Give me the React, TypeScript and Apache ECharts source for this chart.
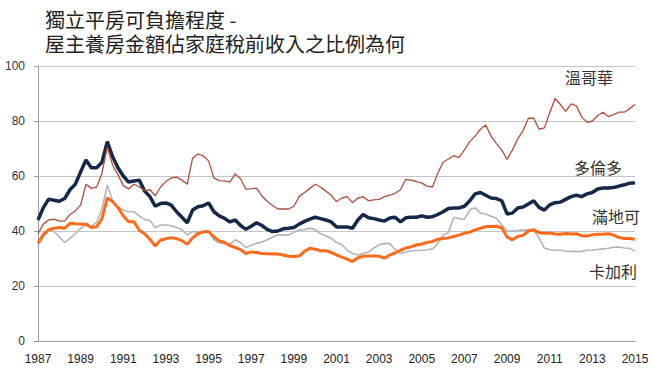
import React, { useEffect, useRef } from "react";
import * as echarts from "echarts";

// Quarterly series, 1987 Q1 – 2015 Q1
const startYear = 1987;
const yearTicks = [1987, 1989, 1991, 1993, 1995, 1997, 1999, 2001, 2003, 2005, 2007, 2009, 2011, 2013, 2015];
const titleLines = ["獨立平房可負擔程度 -", "屋主養房金額佔家庭稅前收入之比例為何"];
const seriesNames = ["溫哥華", "多倫多", "滿地可", "卡加利"];

const vancouver = [
  39, 42.5, 44, 44.3, 43.6, 43.6, 46, 47.3, 49.5, 57, 55.5, 56, 61, 70.5, 64, 60.4,
  56.5, 55.3, 57, 56, 54.7, 55, 52.8, 56, 58, 59.3, 59.6, 58.5, 57, 66.5, 68, 67.3,
  65.5, 59.3, 58.3, 58.2, 57.8, 60.7, 59, 55.2, 55.3, 55.6, 52.8, 50.8, 49.3, 48, 48, 48,
  49, 52.5, 54, 55.5, 57, 56, 54.5, 53, 50.7, 52, 52.5, 50.3, 52, 52.4, 51, 51.3,
  51.5, 52.5, 53, 53.7, 55, 58.8, 58.5, 58, 57.4, 56.3, 56, 61, 65, 66.2, 67.3, 66.8,
  69.5, 72.5, 74.5, 77, 78.5, 74.5, 71.8, 69.5, 66, 69.5, 73.5, 76.5, 81, 81, 77, 77.5,
  83, 88.2, 86, 83.5, 86.2, 85.5, 81.5, 79.5, 80, 82, 83.2, 81.6, 82.3, 83.2, 83.2, 84.5,
  86,
];

const toronto = [
  44, 48.5, 51.6, 51.2, 50.8, 51.8, 55, 57, 61.5, 65.8, 63, 63, 65, 72.5, 67, 63,
  60, 57.8, 58.2, 58.5, 54.5, 52.5, 49, 50, 50.2, 49.4, 47, 45, 43, 47.6, 48.8, 49.2,
  50.2, 47, 45.5, 44.6, 43.3, 44, 42, 40.6, 41.7, 43, 42, 40.6, 39.8, 40, 40.8, 41,
  41.3, 42.5, 43.5, 44.3, 45, 44.5, 44, 43.3, 41.5, 41.5, 41.5, 41, 44, 46, 44.8, 44.5,
  44, 43.6, 44.7, 45, 43.3, 44.8, 45, 45, 45.5, 45, 45.2, 46, 47, 48.2, 48.4, 48.4,
  49, 51, 53.5, 54, 53, 52, 51.8, 51, 46.2, 46.5, 48.4, 48.7, 49.8, 51, 48.6, 47.6,
  49.5, 50.3, 50.5, 51.5, 52.5, 53, 52.5, 53.5, 54, 55.3, 55.6, 55.6, 55.8, 56.3, 56.8, 57.4,
  57.5,
];

const montreal = [
  35.5, 38.5, 40.5, 41, 41.3, 41, 42.8, 42.6, 42.5, 42.5, 41.3, 41.5, 44.5, 52, 50.7, 48.5,
  45.5, 43.4, 43.4, 40.3, 39, 37, 34.5, 36.7, 37.2, 37.6, 37.2, 36.5, 35.2, 37.5, 39, 39.7,
  39.8, 37.8, 36.4, 35.8, 34.7, 34, 33.2, 31.8, 32.4, 32.2, 31.8, 31.7, 31.6, 31.6, 31.3, 30.8,
  30.7, 30.9, 32.6, 33.7, 33.4, 32.8, 32.8, 32.2, 31.3, 30.5, 29.8, 28.9, 30.3, 30.8, 30.9, 30.9,
  30.9, 30.1, 31.3, 32, 33, 33.8, 34.3, 34.9, 35.3, 35.8, 36.2, 37, 37.3, 37.5, 38, 38.5,
  39.2, 39.6, 40.4, 41, 41.6, 41.6, 41.7, 41.2, 37.8, 36.8, 38, 38.4, 40, 40.5, 39.4, 39.2,
  39.3, 38.9, 38.8, 39.1, 38.9, 39, 38.3, 38.2, 38.6, 38.8, 38.8, 39, 38.5, 37.6, 37.3, 37.3,
  37,
];

const calgary = [
  36, 39.3, 40.3, 39.8, 37.9, 35.8, 37.3, 39, 41, 42.2, 41.6, 43.2, 48, 56.7, 51, 48.8,
  47.6, 47, 47, 45.5, 44.2, 43.8, 41.2, 42.2, 42.2, 41.9, 41.3, 40.5, 38.6, 39.8, 39.5, 39.8,
  39.8, 36.8, 35.7, 35.4, 35.3, 36.8, 35.8, 34, 34.8, 35.5, 36, 36.8, 37.7, 38.6, 38.6, 38.5,
  39.5, 40.4, 40.5, 41, 40.5, 39, 38.3, 37.3, 35.8, 35, 33, 31.8, 31.3, 31.8, 32.4, 33.8,
  35, 35.5, 35.4, 33.3, 31.9, 32.3, 32.8, 32.9, 33, 33.2, 33.5, 35.5, 38.5, 39.5, 45, 44.5,
  44.3, 47.6, 48.5, 46.5, 46.2, 45.4, 44.6, 42.2, 40, 40, 40.2, 40.4, 40.4, 40.1, 37.5, 33.8,
  33.2, 33, 33, 32.7, 32.6, 32.5, 32.6, 33, 33.1, 33.3, 33.5, 33.7, 34.1, 34.2, 33.8, 33.7,
  32.6,
];

const toPairs = (vals: number[]) => vals.map((v, i) => [startYear + i / 4, v]);

export default function App() {
  const ref = useRef<HTMLDivElement>(null);
  useEffect(() => {
    if (!ref.current) return;
    const chart = echarts.init(ref.current, null, { renderer: "svg" });
    const font = "'Liberation Sans', Arial, sans-serif";
    const cjk = "'Noto Sans CJK TC', 'Noto Sans CJK SC', sans-serif";
    const titleStyle = { fontSize: 20, lineHeight: 22, fontWeight: "normal", color: "#222", fontFamily: cjk };
    chart.setOption({
      animation: false,
      backgroundColor: "#ffffff",
      title: [
        { text: titleLines[0], left: 45, top: 8, padding: 0, textStyle: titleStyle },
        { text: titleLines[1], left: 45, top: 32.5, padding: 0, textStyle: titleStyle },
      ],
      grid: { left: 38, right: 17, top: 66, bottom: 48, containLabel: false },
      xAxis: {
        type: "value",
        min: yearTicks[0],
        max: yearTicks[yearTicks.length - 1],
        interval: 2,
        axisLine: { show: true, lineStyle: { color: "#9a9a9a", width: 1 } },
        axisTick: { show: false },
        splitLine: { show: false },
        axisLabel: {
          margin: 12,
          fontSize: 12,
          color: "#222",
          fontFamily: font,
          formatter: (v: number) => String(v),
        },
      },
      yAxis: {
        type: "value",
        min: 0,
        max: 100,
        interval: 20,
        axisLine: { show: true, lineStyle: { color: "#9a9a9a", width: 1 } },
        axisTick: { show: true, length: 4, lineStyle: { color: "#9a9a9a" } },
        splitLine: { show: true, lineStyle: { color: "#c4c4c4", width: 1 } },
        axisLabel: { margin: 13, fontSize: 12, color: "#333", fontFamily: font },
      },
      series: [
        {
          name: seriesNames[3],
          type: "line",
          data: toPairs(calgary),
          showSymbol: false,
          symbol: "none",
          lineStyle: { color: "#b4b4b4", width: 1.6 },
          z: 2,
        },
        {
          name: seriesNames[2],
          type: "line",
          data: toPairs(montreal),
          showSymbol: false,
          symbol: "none",
          lineStyle: { color: "#ff6a1c", width: 3 },
          z: 3,
        },
        {
          name: seriesNames[1],
          type: "line",
          data: toPairs(toronto),
          showSymbol: false,
          symbol: "none",
          lineStyle: { color: "#14284a", width: 3.5 },
          z: 4,
        },
        {
          name: seriesNames[0],
          type: "line",
          data: toPairs(vancouver),
          showSymbol: false,
          symbol: "none",
          lineStyle: { color: "#b14f3c", width: 1.3 },
          z: 5,
        },
      ],
      graphic: [
        { type: "text", left: 565, top: 69, style: { text: seriesNames[0], fontSize: 16, fill: "#333", fontFamily: cjk } },
        { type: "text", left: 574, top: 159, style: { text: seriesNames[1], fontSize: 16, fill: "#333", fontFamily: cjk } },
        { type: "text", left: 592, top: 208, style: { text: seriesNames[2], fontSize: 16, fill: "#333", fontFamily: cjk } },
        { type: "text", left: 589, top: 263, style: { text: seriesNames[3], fontSize: 16, fill: "#333", fontFamily: cjk } },
      ],
    });
    return () => chart.dispose();
  }, []);
  return (
    <div
      ref={ref}
      style={{ position: "fixed", left: 0, top: 0, width: 652, height: 389, background: "#fff" }}
    />
  );
}
